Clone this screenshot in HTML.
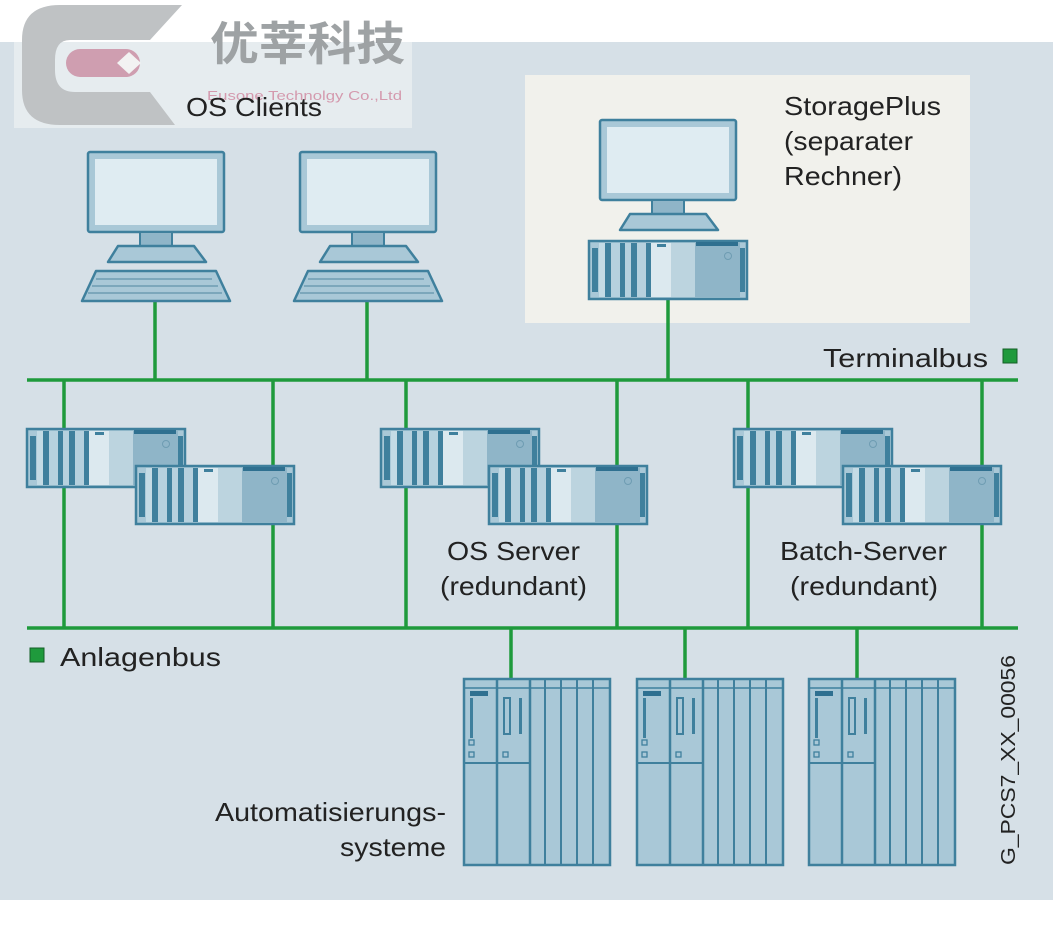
<!DOCTYPE html>
<html><head><meta charset="utf-8"><style>
html,body{margin:0;padding:0;background:#fff}
svg{display:block}
text{font-family:"Liberation Sans",Arial,sans-serif;fill:#222}
</style></head><body>
<svg width="1053" height="940" viewBox="0 0 1053 940" xmlns="http://www.w3.org/2000/svg">
<defs>
<g id="srv">
<rect x="1" y="1" width="158" height="58" fill="#a9c8d7" stroke="#3f809d" stroke-width="2.5"/>
<rect x="4" y="8" width="6" height="44" fill="#3f809d"/>
<rect x="11" y="3" width="6" height="54" fill="#c4dbe5"/>
<rect x="17" y="3" width="6" height="54" fill="#3f809d"/>
<rect x="23" y="3" width="9" height="54" fill="#b6d1de"/>
<rect x="32" y="3" width="5" height="54" fill="#3f809d"/>
<rect x="37" y="3" width="6" height="54" fill="#b6d1de"/>
<rect x="43" y="3" width="6" height="54" fill="#3f809d"/>
<rect x="49" y="3" width="9" height="54" fill="#b6d1de"/>
<rect x="58" y="3" width="5" height="54" fill="#3f809d"/>
<rect x="63" y="3" width="20" height="54" fill="#dce9ef"/>
<rect x="69" y="4" width="9" height="3" fill="#3f809d"/>
<rect x="83" y="3" width="24" height="54" fill="#bcd4df"/>
<rect x="107" y="3" width="45" height="54" fill="#8fb5c8"/>
<rect x="108" y="2" width="42" height="4" fill="#2f7090"/>
<circle cx="140" cy="16" r="3.5" fill="none" stroke="#6e9cb2" stroke-width="1"/>
<rect x="152" y="8" width="5" height="44" fill="#3f809d"/>
</g>
<g id="mon">
<rect x="0" y="0" width="136" height="80" rx="2" fill="#a9c8d7" stroke="#3f809d" stroke-width="2.5"/>
<rect x="7" y="7" width="122" height="66" fill="#dfecf2"/>
<rect x="52" y="80" width="32" height="14" fill="#8fb5c8" stroke="#3f809d" stroke-width="2"/>
<path d="M30 94 H106 L118 110 H20 Z" fill="#a9c8d7" stroke="#3f809d" stroke-width="2.5" stroke-linejoin="round"/>
</g>
<g id="kb">
<path d="M14 0 H134 L148 30 H0 Z" fill="#a9c8d7" stroke="#3f809d" stroke-width="2.5" stroke-linejoin="round"/>
<line x1="14" y1="8" x2="130" y2="8" stroke="#6e9cb2" stroke-width="1.5"/>
<line x1="10" y1="15" x2="136" y2="15" stroke="#6e9cb2" stroke-width="1.5"/>
<line x1="6" y1="22" x2="140" y2="22" stroke="#6e9cb2" stroke-width="1.5"/>
</g>
<g id="as">
<rect x="1" y="1" width="146" height="186" fill="#a9c8d7" stroke="#3f809d" stroke-width="2.5"/>
<line x1="1" y1="10" x2="147" y2="10" stroke="#3f809d" stroke-width="1.5"/>
<line x1="34" y1="1" x2="34" y2="187" stroke="#3f809d" stroke-width="2.5"/>
<line x1="67" y1="1" x2="67" y2="187" stroke="#3f809d" stroke-width="2.5"/>
<line x1="82" y1="1" x2="82" y2="187" stroke="#3f809d" stroke-width="2"/>
<line x1="98" y1="1" x2="98" y2="187" stroke="#3f809d" stroke-width="2"/>
<line x1="114" y1="1" x2="114" y2="187" stroke="#3f809d" stroke-width="2"/>
<line x1="130" y1="1" x2="130" y2="187" stroke="#3f809d" stroke-width="2"/>
<line x1="1" y1="85" x2="67" y2="85" stroke="#3f809d" stroke-width="2"/>
<rect x="7" y="13" width="18" height="5" fill="#2f7090"/>
<rect x="7" y="20" width="3" height="40" fill="#3f809d"/>
<rect x="6" y="62" width="5" height="5" fill="none" stroke="#3f809d" stroke-width="1.3"/>
<rect x="6" y="74" width="5" height="5" fill="none" stroke="#3f809d" stroke-width="1.3"/>
<rect x="41" y="20" width="6" height="36" fill="none" stroke="#3f809d" stroke-width="2"/>
<rect x="56" y="20" width="3" height="36" fill="#3f809d"/>
<rect x="40" y="74" width="5" height="5" fill="none" stroke="#3f809d" stroke-width="1.3"/>
</g>
</defs>
<rect x="0" y="42" width="1053" height="858" fill="#d6e0e7"/>
<!-- logo overlay -->
<rect x="14" y="42" width="398" height="86" fill="#e6ecef"/>
<path d="M60 5 H182 L150 40 H70 Q55 40 55 60 V70 Q55 92 75 92 H150 L175 125 H60 Q22 125 22 90 V40 Q22 5 60 5 Z" fill="#bfc2c4"/>
<rect x="66" y="49" width="74" height="28" rx="14" fill="#cf9eb0"/>
<path d="M117 63 L129 52 L141 63 L129 74 Z" fill="#f2f2f2"/>
<text x="210" y="60" font-size="46" textLength="195" lengthAdjust="spacingAndGlyphs" style="font-family:'Noto Sans CJK SC',sans-serif;fill:#9ea2a4;font-weight:bold">优莘科技</text>
<text x="207" y="100" font-size="13" textLength="195" lengthAdjust="spacingAndGlyphs" style="fill:#d49aae">Eusone Technolgy Co.,Ltd</text>
<text x="186" y="116" font-size="26" textLength="136" lengthAdjust="spacingAndGlyphs">OS Clients</text>
<!-- storage -->
<rect x="525" y="75" width="445" height="248" fill="#f1f1ec"/>
<text x="784" y="115" font-size="26" textLength="157" lengthAdjust="spacingAndGlyphs">StoragePlus</text>
<text x="784" y="150" font-size="26" textLength="129" lengthAdjust="spacingAndGlyphs">(separater</text>
<text x="784" y="185" font-size="26" textLength="118" lengthAdjust="spacingAndGlyphs">Rechner)</text>
<!-- green lines -->
<g stroke="#1f9a3c" stroke-width="3.5" fill="none">
<line x1="27" y1="380" x2="1018" y2="380"/>
<line x1="27" y1="628" x2="1018" y2="628"/>
<line x1="155" y1="300" x2="155" y2="380"/>
<line x1="367" y1="300" x2="367" y2="380"/>
<line x1="668" y1="298" x2="668" y2="380"/>
<line x1="64" y1="380" x2="64" y2="628"/>
<line x1="273" y1="380" x2="273" y2="628"/>
<line x1="406" y1="380" x2="406" y2="628"/>
<line x1="617" y1="380" x2="617" y2="628"/>
<line x1="748" y1="380" x2="748" y2="628"/>
<line x1="982" y1="380" x2="982" y2="628"/>
<line x1="511" y1="628" x2="511" y2="678"/>
<line x1="685" y1="628" x2="685" y2="678"/>
<line x1="857" y1="628" x2="857" y2="678"/>
</g>
<!-- clients -->
<use href="#mon" x="88" y="152"/>
<use href="#kb" x="82" y="271"/>
<use href="#mon" x="300" y="152"/>
<use href="#kb" x="294" y="271"/>
<use href="#mon" x="600" y="120"/>
<use href="#srv" x="588" y="240"/>
<!-- servers -->
<use href="#srv" x="26" y="428"/>
<use href="#srv" x="135" y="465"/>
<use href="#srv" x="380" y="428"/>
<use href="#srv" x="488" y="465"/>
<use href="#srv" x="733" y="428"/>
<use href="#srv" x="842" y="465"/>
<!-- AS -->
<use href="#as" x="463" y="678"/>
<use href="#as" x="636" y="678"/>
<use href="#as" x="808" y="678"/>
<!-- labels -->
<text x="823" y="367" font-size="26" textLength="165" lengthAdjust="spacingAndGlyphs">Terminalbus</text>
<rect x="1003" y="349" width="14" height="14" fill="#1f9a3c" stroke="#145f27" stroke-width="1"/>
<rect x="30" y="648" width="14" height="14" fill="#1f9a3c" stroke="#145f27" stroke-width="1"/>
<text x="60" y="666" font-size="26" textLength="161" lengthAdjust="spacingAndGlyphs">Anlagenbus</text>
<text x="447" y="560" font-size="26" textLength="133" lengthAdjust="spacingAndGlyphs">OS Server</text>
<text x="440" y="595" font-size="26" textLength="147" lengthAdjust="spacingAndGlyphs">(redundant)</text>
<text x="780" y="560" font-size="26" textLength="167" lengthAdjust="spacingAndGlyphs">Batch-Server</text>
<text x="790" y="595" font-size="26" textLength="148" lengthAdjust="spacingAndGlyphs">(redundant)</text>
<text x="215" y="821" font-size="26" textLength="231" lengthAdjust="spacingAndGlyphs">Automatisierungs-</text>
<text x="340" y="856" font-size="26" textLength="106" lengthAdjust="spacingAndGlyphs">systeme</text>
<text transform="translate(1015,865) rotate(-90)" font-size="20" textLength="210" lengthAdjust="spacingAndGlyphs">G_PCS7_XX_00056</text>
</svg>
</body></html>
